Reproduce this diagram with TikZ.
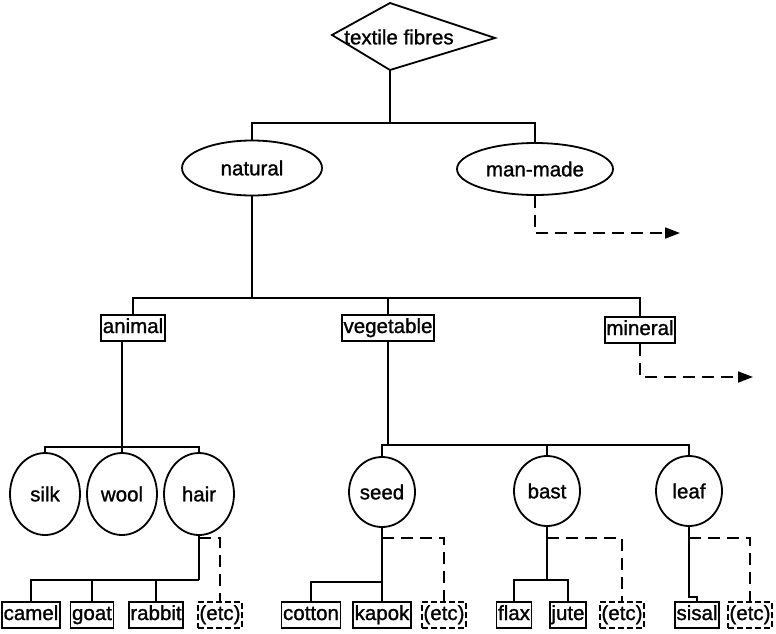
\documentclass[tikz,border=0pt]{standalone}
\usepackage{fontspec}
\setmainfont{Liberation Sans}
\newfontfamily\labfont{Liberation Sans}[FakeBold=1.2]
\usetikzlibrary{shapes.geometric,arrows.meta}
\begin{document}
\begin{tikzpicture}[x=1pt,y=-1pt,
  line width=1.8pt,
  every node/.style={font=\fontsize{20.5}{22}\labfont},
  oval/.style={draw,ellipse,inner sep=0pt},
  circ/.style={oval,minimum width=70pt,minimum height=82pt},
  circb/.style={oval,minimum width=66pt,minimum height=70pt},
  rbox/.style={draw,rectangle,inner xsep=1.5pt,inner ysep=0pt,text height=15pt,text depth=5pt,minimum height=26pt},
  ebox/.style={rbox,dash pattern=on 6pt off 3pt},
  dline/.style={dash pattern=on 12pt off 7pt},
  arr/.style={-{Triangle[length=15pt,width=11pt]}}
]
\useasboundingbox (0,0) rectangle (776,633);

% top diamond
\coordinate (dL) at (332,35);
\coordinate (dT) at (390,3);
\coordinate (dR) at (495,38);
\coordinate (dB) at (390,70);
\draw (dL) -- (dT) -- (dR) -- (dB) -- cycle;
\node (tf) at (399,37) {textile fibres};

% level 1
\node[oval,minimum width=140pt,minimum height=55pt] (nat) at (252,168) {natural};
\node[oval,minimum width=156pt,minimum height=52pt] (mm) at (535,169) {man-made};
\draw (dB) -- (dB |- 0,123);
\draw (nat.north) |- (mm.north |- 0,123) -- (mm.north);
\coordinate (mmend) at (680,233);
\draw[dline,arr] (mm.south) |- (mmend);

% level 2
\node[rbox] (ani) at (133,328) {animal};
\node[rbox] (veg) at (388,328) {vegetable};
\node[rbox] (min) at (640,330) {mineral};
\draw (nat.south) -- (nat.south |- 0,298);
\draw (ani.north) |- (min.north |- 0,298) -- (min.north);
\draw (veg.north) -- (veg.north |- 0,298);
\coordinate (minend) at (753,377);
\draw[dline,arr] (min.south) |- (minend);

% animal children
\node[circ] (silk) at (45,494) {silk};
\node[circ] (wool) at (122,494) {wool};
\node[circ] (hair) at (199,494) {hair};
\draw (ani.south -| wool.north) -- (wool.north);
\draw (silk.north) |- (hair.north |- 0,447) -- (hair.north);

% hair children
\node[rbox] (camel) at (31,615) {camel};
\node[rbox] (goat) at (92,615) {goat};
\node[rbox] (rabbit) at (156,615) {rabbit};
\node[ebox] (etca) at (220,615) {(etc)};
\draw (hair.south) -- (hair.south |- 0,580);
\draw (camel.north) |- (hair.south |- 0,580);
\draw (goat.north) -- (goat.north |- 0,580);
\draw (rabbit.north) -- (rabbit.north |- 0,580);
\draw[dline] (hair.south |- 0,538) -| (etca.north);

% vegetable children
\node[circb] (seed) at (382,492) {seed};
\node[circb] (bast) at (547,491) {bast};
\node[circb] (leaf) at (689,491) {leaf};
\draw (veg.south) -- (veg.south |- 0,445);
\draw (seed.north) |- (leaf.north |- 0,445) -- (leaf.north);
\draw (bast.north) -- (bast.north |- 0,445);

% seed children
\node[rbox] (cotton) at (311,615) {cotton};
\node[rbox] (kapok) at (382,615) {kapok};
\node[ebox] (etcb) at (444,615) {(etc)};
\draw (seed.south) -- (kapok.north);
\draw (cotton.north) |- (seed.south |- 0,582);
\draw[dline] (seed.south |- 0,538) -| (etcb.north);

% bast children
\node[rbox] (flax) at (514,615) {flax};
\node[rbox] (jute) at (568,615) {jute};
\node[ebox] (etcc) at (622,615) {(etc)};
\draw (bast.south) -- (bast.south |- 0,580);
\draw (flax.north) |- (jute.north |- 0,580) -- (jute.north);
\draw[dline] (bast.south |- 0,538) -| (etcc.north);

% leaf children
\node[rbox] (sisal) at (697,615) {sisal};
\node[ebox] (etcd) at (750,615) {(etc)};
\draw (leaf.south) -- (leaf.south |- 0,597) -| (sisal.north);
\draw[dline] (leaf.south |- 0,538) -| (etcd.north);
\end{tikzpicture}
\end{document}
